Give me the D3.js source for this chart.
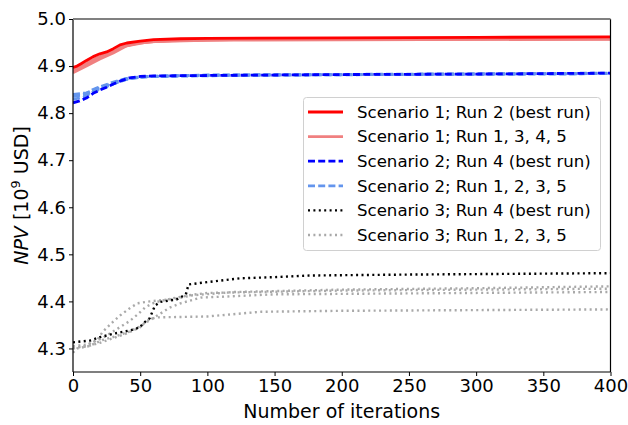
<!DOCTYPE html>
<html>
<head>
<meta charset="utf-8">
<script src="https://cdn.jsdelivr.net/npm/d3@7/dist/d3.min.js"></script>
<style>
  html, body { margin: 0; padding: 0; background: #fff; }
  svg { display: block; font-family: "DejaVu Sans", sans-serif; }
</style>
</head>
<body>
<svg id="chart" width="628" height="425"></svg>
<script>
// NPV convergence per scenario: [iteration, NPV in 10^9 USD]
const s1Best = [[0,4.897],[3,4.900],[6,4.905],[10,4.912],[15,4.920],[20,4.926],[25,4.930],[30,4.937],[35,4.945],[40,4.949],[50,4.953],[60,4.956],[80,4.958],[100,4.959],[200,4.960],[300,4.961],[400,4.962]];
const s1Others = [
  [[0,4.889],[5,4.897],[10,4.905],[20,4.918],[30,4.930],[38,4.942],[50,4.950],[70,4.954],[100,4.956],[200,4.957],[400,4.958]],
  [[0,4.893],[8,4.903],[15,4.914],[25,4.926],[35,4.940],[45,4.948],[60,4.953],[100,4.955],[400,4.957]],
  [[0,4.886],[10,4.900],[20,4.915],[30,4.928],[40,4.943],[55,4.951],[80,4.955],[150,4.957],[400,4.958]],
  [[0,4.895],[6,4.902],[14,4.912],[24,4.924],[34,4.938],[44,4.947],[60,4.952],[120,4.956],[400,4.959]]
];
const s2Best = [[0,4.822],[5,4.826],[10,4.832],[15,4.842],[20,4.849],[25,4.855],[30,4.862],[35,4.868],[42,4.875],[50,4.878],[60,4.879],[100,4.880],[200,4.882],[300,4.883],[400,4.885]];
const s2Others = [
  [[0,4.838],[10,4.840],[13,4.848],[20,4.856],[30,4.866],[40,4.874],[50,4.877],[80,4.880],[200,4.882],[400,4.884]],
  [[0,4.829],[8,4.834],[15,4.845],[25,4.856],[35,4.868],[45,4.875],[60,4.878],[150,4.881],[400,4.884]],
  [[0,4.835],[12,4.842],[20,4.852],[30,4.862],[40,4.872],[55,4.878],[100,4.881],[400,4.885]],
  [[0,4.840],[10,4.843],[18,4.852],[28,4.862],[38,4.872],[50,4.877],[90,4.880],[400,4.884]]
];
const s3Best = [[0,4.313],[13,4.317],[20,4.324],[31,4.332],[42,4.338],[50,4.345],[52,4.353],[57,4.364],[61,4.391],[65,4.399],[77,4.404],[84,4.415],[86,4.436],[100,4.441],[124,4.449],[154,4.452],[176,4.455],[250,4.457],[400,4.460]];
const s3Others = [
  [[0,4.300],[10,4.306],[18,4.318],[22,4.335],[28,4.352],[35,4.370],[42,4.385],[48,4.396],[57,4.400],[75,4.405],[89,4.413],[120,4.420],[200,4.425],[300,4.428],[400,4.432]],
  [[0,4.305],[10,4.308],[22,4.322],[32,4.340],[42,4.358],[48,4.372],[54,4.388],[61,4.398],[70,4.404],[86,4.413],[100,4.418],[200,4.423],[400,4.427]],
  [[0,4.291],[3,4.300],[12,4.305],[22,4.318],[32,4.326],[42,4.336],[50,4.347],[57,4.360],[65,4.374],[72,4.387],[80,4.396],[95,4.408],[150,4.415],[400,4.420]],
  [[0,4.302],[10,4.304],[20,4.312],[30,4.322],[40,4.332],[50,4.345],[55,4.360],[62,4.366],[100,4.368],[140,4.378],[200,4.380],[400,4.383]]
];

const xTicks = [0, 50, 100, 150, 200, 250, 300, 350, 400];
const yTicks = [4.3, 4.4, 4.5, 4.6, 4.7, 4.8, 4.9, 5.0];
const legendLabels = [
  "Scenario 1; Run 2 (best run)",
  "Scenario 1; Run 1, 3, 4, 5",
  "Scenario 2; Run 4 (best run)",
  "Scenario 2; Run 1, 2, 3, 5",
  "Scenario 3; Run 4 (best run)",
  "Scenario 3; Run 1, 2, 3, 5"
];

const styles = [
  { color: "#ff0000", width: 2.8, dash: null },
  { color: "#f08080", width: 2.8, dash: null },
  { color: "#0000ff", width: 2.8, dash: "7,3.2" },
  { color: "#6495ed", width: 2.8, dash: "7,3.2" },
  { color: "#000000", width: 2.4, dash: "2,3.4" },
  { color: "#a9a9a9", width: 2.4, dash: "2,3.4" }
];

const svg = d3.select("#chart");
const pLeft = 73, pRight = 610.5, pTop = 19, pBottom = 372;

const x = d3.scaleLinear().domain([0, 400]).range([pLeft, pRight]);
const y = d3.scaleLinear().domain([4.25, 5.0]).range([pBottom, pTop]);

const line = d3.line().x(d => x(d[0])).y(d => y(d[1]));

const plot = svg.append("g");
plot.append("clipPath").attr("id", "clip")
  .append("rect").attr("x", pLeft).attr("y", pTop).attr("width", pRight - pLeft).attr("height", pBottom - pTop);
const lines = plot.append("g").attr("clip-path", "url(#clip)");

function drawSeries(data, st) {
  lines.append("path")
    .attr("d", line(data))
    .attr("fill", "none")
    .attr("stroke", st.color)
    .attr("stroke-width", st.width)
    .attr("stroke-dasharray", st.dash)
    .attr("stroke-linejoin", "round");
}

s1Others.forEach(r => drawSeries(r, styles[1]));
drawSeries(s1Best, styles[0]);
s2Others.forEach(r => drawSeries(r, styles[3]));
drawSeries(s2Best, styles[2]);
s3Others.forEach(r => drawSeries(r, styles[5]));
drawSeries(s3Best, styles[4]);

// axes
const xAxis = svg.append("g").attr("transform", `translate(0,${pBottom})`)
  .call(d3.axisBottom(x).tickValues(xTicks).tickSize(4).tickPadding(3).tickFormat(d3.format("d")));
const yAxis = svg.append("g").attr("transform", `translate(${pLeft},0)`)
  .call(d3.axisLeft(y).tickValues(yTicks).tickSize(4).tickPadding(3).tickFormat(d3.format(".1f")));
[xAxis, yAxis].forEach(a => {
  a.select(".domain").remove();
  a.selectAll("text").attr("font-size", 18).attr("font-family", "DejaVu Sans").attr("fill", "#000");
  a.selectAll("line").attr("stroke", "#000").attr("stroke-width", 1);
});

// spines
svg.append("line").attr("x1", pLeft).attr("x2", pRight).attr("y1", pBottom).attr("y2", pBottom).attr("stroke", "#000").attr("stroke-width", 1.2);
svg.append("line").attr("x1", pLeft).attr("x2", pLeft).attr("y1", pTop).attr("y2", pBottom).attr("stroke", "#000").attr("stroke-width", 1.2);
svg.append("line").attr("x1", pRight).attr("x2", pRight).attr("y1", pTop).attr("y2", pBottom).attr("stroke", "#000").attr("stroke-width", 1.2);
svg.append("line").attr("x1", pLeft).attr("x2", pRight).attr("y1", pTop).attr("y2", pTop).attr("stroke", "#808080").attr("stroke-width", 2);

// axis titles
svg.append("text").attr("x", (pLeft + pRight) / 2).attr("y", 418)
  .attr("text-anchor", "middle").attr("font-size", 19).text("Number of iterations");
const yl = svg.append("text")
  .attr("transform", `translate(28,${(pTop + pBottom) / 2}) rotate(-90)`)
  .attr("text-anchor", "middle").attr("font-size", 19);
yl.append("tspan").attr("font-style", "italic").text("NPV");
yl.append("tspan").text(" [10");
yl.append("tspan").attr("font-size", 13).attr("dy", -8).text("9");
yl.append("tspan").attr("dy", 8).text(" USD]");

// legend
const lg = svg.append("g");
lg.append("rect").attr("x", 303.5).attr("y", 97.5).attr("width", 297).attr("height", 153)
  .attr("rx", 3).attr("fill", "#fff").attr("fill-opacity", 0.85)
  .attr("stroke", "#d0d0d0").attr("stroke-width", 1);
legendLabels.forEach((lab, i) => {
  const cy = 112 + i * 24.6;
  const st = styles[i];
  lg.append("line").attr("x1", 308).attr("x2", 343).attr("y1", cy).attr("y2", cy)
    .attr("stroke", st.color).attr("stroke-width", st.width).attr("stroke-dasharray", st.dash);
  lg.append("text").attr("x", 357).attr("y", cy).attr("dy", "0.35em")
    .attr("font-size", 16.6).attr("fill", "#000").text(lab);
});
</script>
</body>
</html>
